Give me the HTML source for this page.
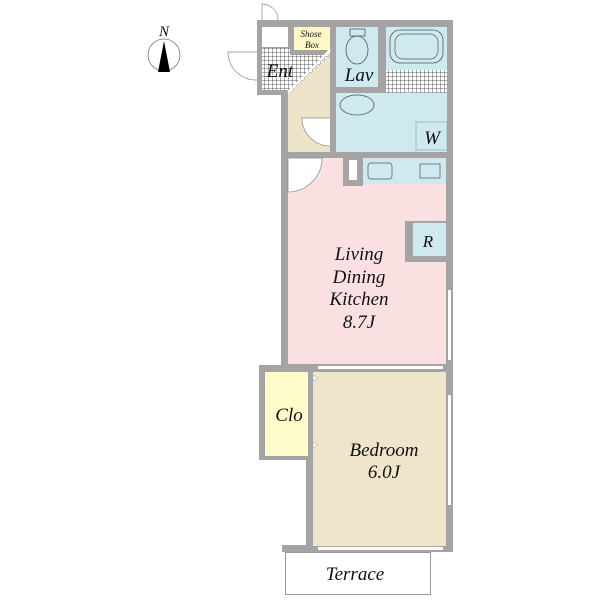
<!DOCTYPE html>
<html><head><meta charset="utf-8"><style>
body{margin:0;background:#fff}
svg{display:block}
text{font-family:"Liberation Serif",serif;font-style:italic;fill:#111}
</style></head><body>
<svg width="600" height="600" viewBox="0 0 600 600" xmlns="http://www.w3.org/2000/svg">
<defs>
<pattern id="tile" width="4" height="4" patternUnits="userSpaceOnUse">
<rect width="4" height="4" fill="#fff"/><path d="M0 0H4M0 0V4" stroke="#333" stroke-width="0.8"/>
</pattern>
</defs>
<circle cx="164" cy="55" r="16" fill="none" stroke="#777" stroke-width="0.8"/>
<polygon points="164,41 158,72 170,72" fill="#000"/>
<text x="164" y="36" font-size="15" text-anchor="middle">N</text>
<path d="M262 20 V4 A16 16 0 0 1 278 20" fill="#fff" stroke="#888" stroke-width="0.7"/>
<path d="M257 52 H228 A28 28 0 0 0 257 80" fill="#fff" stroke="#888" stroke-width="0.7"/>
<rect x="257" y="20" width="196" height="75" fill="#a4a4a4"/>
<rect x="281" y="90" width="172" height="280" fill="#a4a4a4"/>
<rect x="259" y="365" width="194" height="95" fill="#a4a4a4"/>
<rect x="306" y="455" width="147" height="97" fill="#a4a4a4"/>
<rect x="282" y="545" width="171" height="7" fill="#a4a4a4"/>
<rect x="262" y="48" width="28" height="42" fill="url(#tile)"/>
<rect x="262" y="27" width="26" height="20" fill="#fff"/>
<rect x="294" y="27" width="36" height="23" fill="#fdf8c6"/>
<polygon points="288,92 330,50 330,152 288,152" fill="#ede3c8"/>
<polygon points="290,55 330,55 290,92" fill="url(#tile)"/>
<line x1="288" y1="92" x2="330" y2="50" stroke="#fff" stroke-width="2"/>
<path d="M330 118 H302 A28 28 0 0 0 330 146" fill="#fff" stroke="#888" stroke-width="0.7"/>
<rect x="336" y="27" width="42" height="60" fill="#cfe9f0"/>
<ellipse cx="357" cy="50" rx="11" ry="14" fill="none" stroke="#555" stroke-width="0.8"/>
<rect x="350" y="29" width="15" height="7" fill="none" stroke="#555" stroke-width="0.8"/>
<rect x="386" y="27" width="61" height="43" fill="#cfe9f0"/>
<rect x="390" y="30" width="53" height="33" rx="10" fill="none" stroke="#555" stroke-width="0.8"/>
<rect x="395" y="34" width="43" height="25" rx="8" fill="none" stroke="#555" stroke-width="0.7"/>
<rect x="386" y="70" width="61" height="37" fill="url(#tile)"/>
<path d="M392 107 V100 L408 92 L416 100 V107 Z" fill="#fff"/>
<rect x="336" y="93" width="111" height="59" fill="#cfe9f0"/>
<ellipse cx="357" cy="105" rx="17" ry="10" fill="none" stroke="#555" stroke-width="0.8"/>
<rect x="416" y="122" width="31" height="28" fill="none" stroke="#8aa" stroke-width="0.7"/>
<rect x="288" y="158" width="158" height="206" fill="#fbe0e2"/>
<path d="M288 158 H322 A34 34 0 0 1 288 192 Z" fill="#fff" stroke="#888" stroke-width="0.7"/>
<rect x="343" y="158" width="20" height="28" fill="#a4a4a4"/>
<rect x="349" y="160" width="8" height="20" fill="#fff"/>
<rect x="363" y="158" width="83" height="26" fill="#cfe9f0"/>
<rect x="368" y="163" width="24" height="16" rx="3" fill="none" stroke="#555" stroke-width="0.7"/>
<rect x="420" y="164" width="20" height="14" fill="none" stroke="#555" stroke-width="0.7"/>
<rect x="405" y="221" width="41" height="41" fill="#a4a4a4"/>
<rect x="413" y="223" width="33" height="33" fill="#cfe9f0"/>
<rect x="448" y="290" width="3" height="70" fill="#fff"/>
<rect x="448" y="395" width="3" height="110" fill="#fff"/>
<rect x="318" y="366" width="125" height="3" fill="#fff"/>
<rect x="318" y="547" width="125" height="3" fill="#fff"/>
<rect x="265" y="372" width="43" height="84" fill="#fdfcca"/>
<rect x="313" y="372" width="133" height="174" fill="#efe5cb"/>
<polygon points="313,375 318,378 313,381" fill="#fff" stroke="#999" stroke-width="0.5"/>
<polygon points="313,442 318,445 313,448" fill="#fff" stroke="#999" stroke-width="0.5"/>
<rect x="285.5" y="552.5" width="145" height="42" fill="#fff" stroke="#999" stroke-width="1"/>
<text x="311" y="37" font-size="9" text-anchor="middle">Shose</text>
<text x="312" y="48" font-size="9" text-anchor="middle">Box</text>
<text x="280" y="77" font-size="19" text-anchor="middle">Ent</text>
<text x="359" y="81" font-size="19" text-anchor="middle">Lav</text>
<text x="432" y="144" font-size="19" text-anchor="middle">W</text>
<text x="428" y="247" font-size="17" text-anchor="middle">R</text>
<g font-size="19" text-anchor="middle">
<text x="359" y="260">Living</text>
<text x="359" y="283">Dining</text>
<text x="359" y="305">Kitchen</text>
<text x="359" y="328">8.7J</text>
<text x="289" y="421">Clo</text>
<text x="384" y="456">Bedroom</text>
<text x="384" y="478">6.0J</text>
<text x="355" y="580">Terrace</text>
</g>
</svg>
</body></html>
